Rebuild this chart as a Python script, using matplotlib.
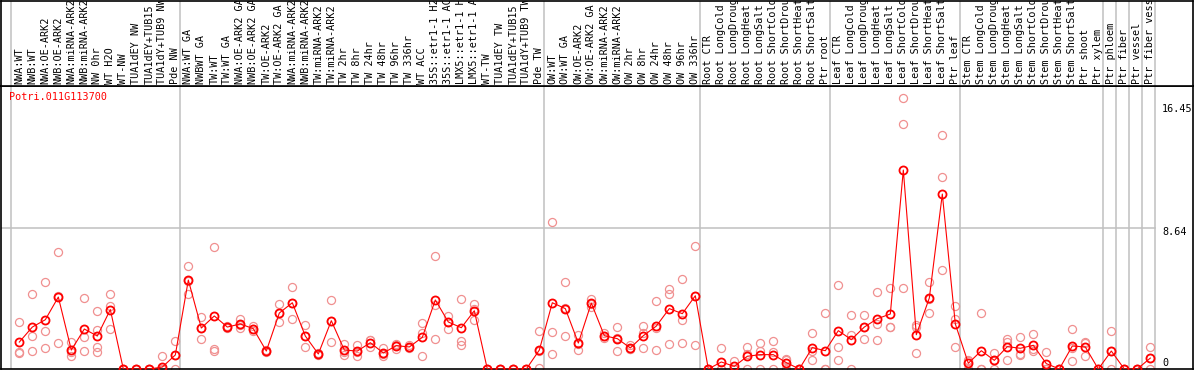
import matplotlib.pyplot as plt
import numpy as np

gene = 'Potri.011G113700'

labels = [
    'NWA:WT', 'NWB:WT', 'NWA:OE-ARK2', 'NWB:OE-ARK2', 'NWA:miRNA-ARK2', 'NWB:miRNA-ARK2',
    'NW 0hr', 'WT H2O', 'WT-NW', 'TUA1dEY NW', 'TUA1dEY+TUB15', 'TUA1dY+TUB9 NW', 'Pde NW',
    'NWA:WT GA', 'NWBWT GA', 'TW:WT', 'TW:WT GA', 'NWA:OE-ARK2 GA', 'NWB:OE-ARK2 GA',
    'TW:OE-ARK2', 'TW:OE-ARK2 GA', 'NWA:miRNA-ARK2', 'NWB:miRNA-ARK2', 'TW:miRNA-ARK2',
    'TW:miRNA-ARK2', 'TW 2hr', 'TW 8hr', 'TW 24hr', 'TW 48hr', 'TW 96hr', 'TW 336hr', 'WT ACC',
    '35S::etr1-1 H2O', '35S::etr1-1 ACC', 'LMX5::etr1-1 H2O', 'LMX5::etr1-1 ACC', 'WT-TW',
    'TUA1dEY TW', 'TUA1dEY+TUB15', 'TUA1dY+TUB9 TW', 'Pde TW',
    'OW:WT', 'OW:WT GA', 'OW:OE-ARK2', 'OW:OE-ARK2 GA', 'OW:miRNA-ARK2', 'OW:miRNA-ARK2',
    'OW 2hr', 'OW 8hr', 'OW 24hr', 'OW 48hr', 'OW 96hr', 'OW 336hr',
    'Root CTR', 'Root LongCold', 'Root LongDrought', 'Root LongHeat', 'Root LongSalt',
    'Root ShortCold', 'Root ShortDrought', 'Root ShortHeat', 'Root ShortSalt', 'Ptr root',
    'Leaf CTR', 'Leaf LongCold', 'Leaf LongDrought', 'Leaf LongHeat', 'Leaf LongSalt',
    'Leaf ShortCold', 'Leaf ShortDrought', 'Leaf ShortHeat', 'Leaf ShortSalt', 'Ptr leaf',
    'Stem CTR', 'Stem LongCold', 'Stem LongDrought', 'Stem LongHeat', 'Stem LongSalt',
    'Stem ShortCold', 'Stem ShortDrought', 'Stem ShortHeat', 'Stem ShortSalt', 'Ptr shoot',
    'Ptr xylem', 'Ptr phloem', 'Ptr fiber', 'Ptr vessel', 'Ptr fiber vessel',
]

group_sizes = [13, 28, 12, 10, 10, 11, 1, 1, 1, 1]

means = [
    1.65, 2.57, 3.02, 4.41, 1.16, 2.45, 2.02, 3.64, 0, 0, 0, 0.12, 0.86,
    5.45, 2.51, 3.25, 2.57, 2.76, 2.47, 1.10, 3.43, 4.06, 2.02, 0.92, 2.96, 1.16, 1.10,
    1.61, 0.98, 1.43, 1.35, 1.94, 4.23, 2.88, 2.53, 3.57, 0, 0, 0, 0, 1.16,
    4.06, 3.70, 1.59, 4.04, 2.04, 1.86, 1.29, 2.04, 2.63, 3.70, 3.39, 4.49,
    0, 0.43, 0.16, 0.78, 0.88, 0.88, 0.39, 0, 1.31, 1.12,
    2.35, 1.80, 2.57, 3.08, 3.37, 12.19, 2.10, 4.35, 10.72, 2.76,
    0.35, 1.12, 0.53, 1.37, 1.27, 1.45, 0.33, 0, 1.41, 1.35, 0,
    1.10, 0, 0, 0.67,
]

replicates = [
    [2.88, 1.04, 0.98], [4.62, 2.02, 1.12], [5.33, 2.33, 1.31], [7.17, 4.47, 1.59],
    [1.63, 1.03, 0.82], [4.35, 1.96, 1.10], [3.55, 2.37, 1.35, 1.04], [4.62, 3.83, 2.47],
    [0, 0, 0], [0, 0, 0], [0, 0, 0], [0.82, 0, 0], [1.74, 0.84, 0],
    [6.31, 5.42, 4.62], [3.19, 2.50, 1.84], [7.48, 1.25, 1.08], [2.66, 2.49, 2.57],
    [3.08, 2.70, 2.49], [2.63, 2.47, 2.33], [1.15, 1.10, 1.05], [4.00, 3.42, 2.88],
    [5.04, 4.06, 3.08], [2.72, 2.00, 1.37], [0.98, 0.90, 0.85], [4.25, 2.97, 1.67],
    [1.55, 1.05, 0.88], [1.47, 1.03, 0.80], [1.76, 1.75, 1.33], [1.27, 0.90, 0.78],
    [1.55, 1.50, 1.25], [1.45, 1.33, 1.27], [2.82, 2.20, 0.82], [6.94, 3.94, 1.86],
    [3.27, 2.90, 2.45], [4.29, 1.74, 1.47], [3.98, 3.70, 3.02],
    [0, 0, 0], [0, 0, 0], [0, 0, 0], [0, 0, 0], [2.35, 1.10, 0.04],
    [9.01, 2.27, 0.90], [5.33, 3.75, 2.02], [2.06, 1.55, 1.16], [4.29, 4.00, 3.80],
    [2.20, 2.04, 1.90], [2.57, 1.90, 1.12], [1.45, 1.20, 1.23], [2.63, 2.20, 1.29],
    [4.19, 2.50, 1.18], [4.90, 4.62, 1.53], [5.53, 2.98, 1.59], [7.56, 4.45, 1.47],
    [0, 0, 0], [1.29, 0, 0], [0.51, 0, 0], [1.37, 0.90, 0], [1.61, 1.08, 0],
    [1.74, 1.02, 0], [0.61, 0.53, 0], [0, 0, 0], [2.23, 1.08, 0.55], [3.45, 0, 0],
    [5.17, 1.35, 0.55], [3.31, 2.10, 0], [3.31, 2.55, 1.86], [4.74, 2.74, 1.80],
    [4.98, 2.57, 2.56], [16.61, 15.01, 4.98], [2.68, 2.55, 0.98], [5.33, 4.27, 3.45],
    [14.34, 11.76, 6.07], [3.86, 3.08, 1.37],
    [0.57, 0.47, 0], [3.45, 0, 0], [0.98, 0.53, 0], [1.86, 1.65, 0.57],
    [1.96, 0.92, 0.84], [2.14, 1.21, 1.08], [1.04, 0, 0], [0, 0, 0],
    [2.45, 1.27, 0.51], [1.67, 1.59, 0.80], [0, 0, 0],
    [2.35, 1.10, 0], [0, 0, 0], [0, 0, 0], [1.37, 0.65, 0],
]

ytick_values = [0, 8.64, 16.45]

W, H = 1194, 370
fig = plt.figure(figsize=(W / 100, H / 100), dpi=100)
plt.rcParams['font.family'] = 'DejaVu Sans Mono'

# plot area: pixels x 1..1193, y 86..369 ; slot k boundary at px 11 + 13k
ax = fig.add_axes([1 / W, 1 / H, 1192 / W, 283 / H])
xlo, xhi = (1 - 11) / 13, (1193 - 11) / 13
ax.set_xlim(xlo, xhi)
ax.set_ylim(0, 17.34)
ax.set_xticks([])
ax.set_yticks([])
for s in ax.spines.values():
    s.set_color('black')
    s.set_linewidth(1.2)

hdr = fig.add_axes([1 / W, 284 / H, 1192 / W, 85.5 / H])
hdr.set_xlim(xlo, xhi)
hdr.set_ylim(0, 1)
hdr.set_xticks([])
hdr.set_yticks([])
for s in hdr.spines.values():
    s.set_color('black')
    s.set_linewidth(1.2)

grid_c = '#c0c0c0'
bounds = np.concatenate([[0], np.cumsum(group_sizes)])
for b in bounds:
    ax.axvline(b, color=grid_c, lw=1.1, zorder=0)
    hdr.axvline(b, color=grid_c, lw=1.1, zorder=0)
ax.plot([xlo, bounds[-1]], [8.64, 8.64], color=grid_c, lw=1.1, zorder=0)

x = np.arange(len(means)) + 0.64

for xi, reps in zip(x, replicates):
    ax.plot([xi] * len(reps), reps, 'o', ms=5.8, mfc='none', mec='#f09090',
            mew=0.9, clip_on=False, zorder=2)

ax.plot(x, means, '-', color='red', lw=0.8, zorder=3)
ax.plot(x, means, 'o', ms=5.8, mfc='none', mec='red', mew=1.3, clip_on=False, zorder=4)

for xi, lab in zip(x, labels):
    hdr.text(xi, 0.02, lab, rotation=90, ha='center', va='bottom', fontsize=7.3,
             color='black', clip_on=True)

ax.text(8 / 1192, 1 - 11 / 283, gene, transform=ax.transAxes, color='red',
        fontsize=7.3, ha='left', va='center')

offsets = {0: 6, 8.64: -4, 16.45: -8}
for v in ytick_values:
    ax.annotate(str(v), (bounds[-1] + 0.55, v), xytext=(0, offsets[v]),
                textcoords='offset pixels', ha='left', va='center', fontsize=7.3,
                annotation_clip=False)

fig.savefig('out.png', dpi=100)
